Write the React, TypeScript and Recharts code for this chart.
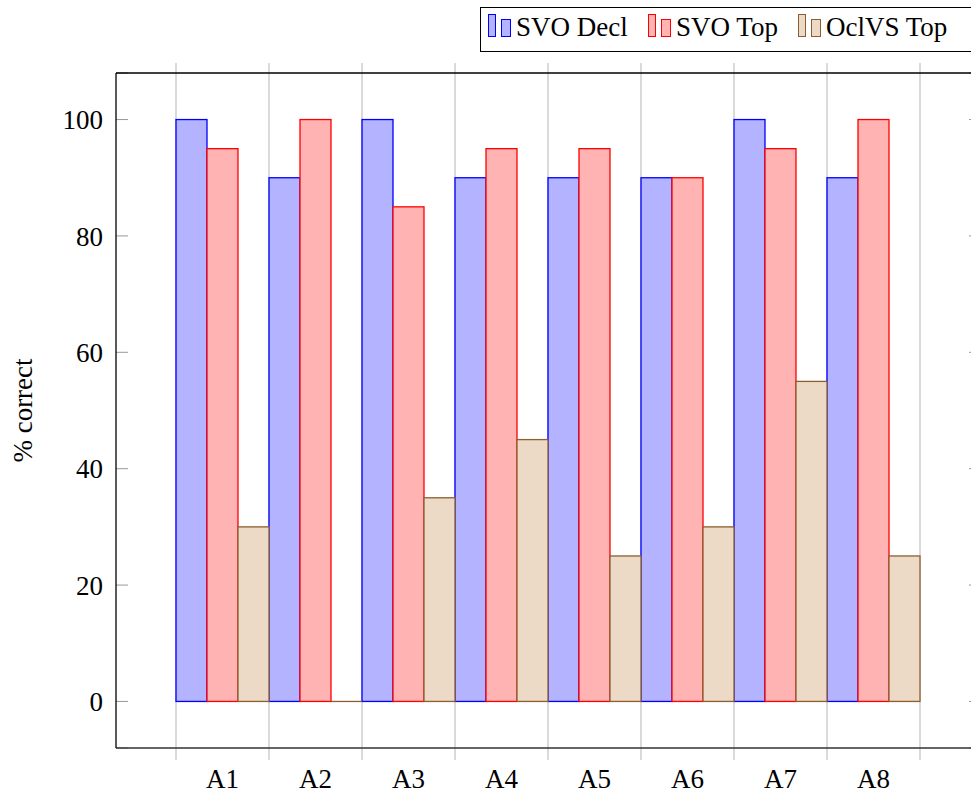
import React from 'react';
import {
  BarChart,
  Bar,
  XAxis,
  YAxis,
  CartesianGrid,
  Legend,
  ReferenceLine,
} from 'recharts';

const categories = ['A1', 'A2', 'A3', 'A4', 'A5', 'A6', 'A7', 'A8'];
const svoDecl = [100, 90, 100, 90, 90, 90, 100, 90];
const svoTop = [95, 100, 85, 95, 95, 90, 95, 100];
const oclvsTop = [30, 0, 35, 45, 25, 30, 55, 25];
const yTicks = [0, 20, 40, 60, 80, 100];

const SERIES = [
  { key: 'svoDecl', name: 'SVO Decl', fill: '#b3b3ff', stroke: '#0000ff', width: 160 },
  { key: 'svoTop', name: 'SVO Top', fill: '#ffb3b3', stroke: '#ff0000', width: 150 },
  { key: 'oclvsTop', name: 'OclVS Top', fill: '#ecd9c6', stroke: '#8c5e30', width: 200 },
];

const data = categories.map((c, i) => ({
  cat: c,
  svoDecl: svoDecl[i],
  svoTop: svoTop[i],
  oclvsTop: oclvsTop[i],
}));

const X_PAD = { left: 60, right: 61 };
const FONT = '"Liberation Serif", "Times New Roman", serif';
const GRID = '#b5b5b5';

// bar with pgfplots-like outline; zero-height bars still get a line
const BarShape = (props: any) => {
  const { x, y, width, height, fill, stroke } = props;
  if (!height) {
    return <line x1={x} x2={x + width} y1={y} y2={y} stroke={stroke} strokeWidth={1.3} />;
  }
  return (
    <rect x={x} y={y} width={width} height={height} fill={fill} stroke={stroke} strokeWidth={1.3} />
  );
};

// grid lines at the band boundaries (group edges, not tick centres)
const boundaryLines = ({ xAxis, offset }: any) => {
  const scale = xAxis?.scale;
  let mapFn: ((v: string) => number) | null = null;
  if (typeof scale === 'function') mapFn = (v) => scale(v);
  else if (scale && typeof scale.map === 'function') mapFn = (v) => scale.map(v);
  let bw = 0;
  if (scale && typeof scale.bandwidth === 'function') bw = scale.bandwidth();
  if (mapFn && bw) {
    const starts = categories.map((c) => mapFn!(c));
    if (starts.every((s) => Number.isFinite(s))) {
      return [...starts, starts[starts.length - 1] + bw];
    }
  }
  // fallback: derive from the plot offset and axis padding
  const inner = offset.width - X_PAD.left - X_PAD.right;
  const step = inner / categories.length;
  return [...categories, ''].map((_, i) => offset.left + X_PAD.left + i * step);
};

const VerticalLine = (props: any) => (
  <line
    key={props.key}
    x1={props.x1}
    x2={props.x2}
    y1={props.y1 - 10}
    y2={props.y2 + 12}
    stroke={GRID}
    strokeWidth={1}
  />
);

// short inward ticks on left and right frame
const HorizontalTicks = (props: any) => (
  <g key={props.key}>
    <line x1={props.x1} x2={props.x1 + 12} y1={props.y1} y2={props.y2} stroke="#999" strokeWidth={1} />
    <line x1={props.x2 - 12} x2={props.x2} y1={props.y1} y2={props.y2} stroke="#999" strokeWidth={1} />
  </g>
);

const LegendBox = () => (
  <div
    style={{
      border: '1.3px solid #000',
      height: 45,
      width: 520,
      boxSizing: 'border-box',
      display: 'flex',
      alignItems: 'flex-end',
      paddingLeft: 7,
      paddingBottom: 14,
      fontFamily: FONT,
      fontSize: 27,
      color: '#000',
      background: '#fff',
    }}
  >
    {SERIES.map((s) => (
      <div key={s.key} style={{ display: 'flex', alignItems: 'flex-end', width: s.width }}>
        <div
          style={{
            width: 8,
            height: 23,
            background: s.fill,
            border: `1.3px solid ${s.stroke}`,
            boxSizing: 'border-box',
            marginRight: 5,
          }}
        />
        <div
          style={{
            width: 10,
            height: 18,
            background: s.fill,
            border: `1.3px solid ${s.stroke}`,
            boxSizing: 'border-box',
            marginRight: 5,
          }}
        />
        <span style={{ lineHeight: '20px', whiteSpace: 'nowrap' }}>{s.name}</span>
      </div>
    ))}
  </div>
);

export default function App() {
  return (
    <div
      style={{
        position: 'fixed',
        left: 0,
        top: 0,
        width: 971,
        height: 798,
        overflow: 'hidden',
        background: '#fff',
      }}
    >
      <BarChart
        width={1000}
        height={798}
        data={data}
        margin={{ top: 28, right: 19, bottom: 0, left: 0 }}
        barCategoryGap={0}
        barGap={0}
      >
        <CartesianGrid
          verticalCoordinatesGenerator={boundaryLines}
          vertical={VerticalLine}
          horizontal={HorizontalTicks}
        />
        <XAxis
          dataKey="cat"
          height={50}
          padding={X_PAD}
          tickLine={false}
          axisLine={{ stroke: '#333', strokeWidth: 1.5 }}
          tickMargin={15}
          tick={{ fill: '#000', fontSize: 27, fontFamily: FONT }}
        />
        <YAxis
          width={116}
          domain={[-8, 108]}
          ticks={yTicks}
          tickLine={false}
          axisLine={{ stroke: '#000', strokeWidth: 1.3 }}
          tickMargin={7}
          tick={{ fill: '#000', fontSize: 27, fontFamily: FONT }}
          label={{
            value: '% correct',
            angle: -90,
            position: 'insideLeft',
            offset: 22,
            style: { textAnchor: 'middle', fill: '#000', fontSize: 27, fontFamily: FONT },
          }}
        />
        <ReferenceLine y={108} stroke="#000" strokeWidth={1.3} />
        <Legend
          verticalAlign="top"
          align="left"
          wrapperStyle={{ top: 7, left: 480, width: 520 }}
          content={() => <LegendBox />}
        />
        {SERIES.map((s) => (
          <Bar
            key={s.key}
            dataKey={s.key}
            name={s.name}
            fill={s.fill}
            stroke={s.stroke}
            shape={BarShape}
            isAnimationActive={false}
          />
        ))}
      </BarChart>
    </div>
  );
}
